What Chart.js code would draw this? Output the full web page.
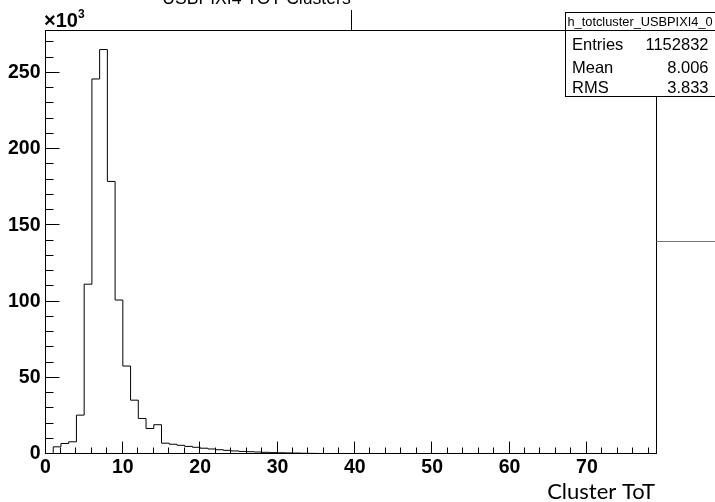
<!DOCTYPE html>
<html lang="en">
<head>
<meta charset="utf-8">
<title>USBPIXI4 TOT Clusters</title>
<script src="https://cdn.jsdelivr.net/npm/chart.js"></script>
<style>
  html, body { margin: 0; padding: 0; background: #fff; }
  #wrap { width: 715px; height: 502px; }
</style>
</head>
<body>
<div id="wrap"><canvas id="totChart" width="715" height="502"></canvas></div>
<script>
// counts per ToT bin in units of 10^3, bin i covers [i, i+1)
const totCounts = [
  0, 4.7, 6.9, 8.0, 25.5, 111.4, 246.0, 265.3, 178.8, 101.0,
  57.7, 35.3, 23.3, 16.7, 19.2, 7.1, 6.4, 5.7, 5.0, 4.4,
  3.8, 3.3, 2.8, 2.4, 2.0, 1.7, 1.5, 1.3, 1.1, 0.9,
  0.8, 0.7, 0.6, 0.5, 0.42, 0.36, 0.3, 0.25, 0.2, 0.17,
  0.14, 0.12, 0.1, 0.08, 0.07, 0.06, 0.05, 0.04, 0.03, 0.03,
  0.02, 0.02, 0.01, 0.01, 0.01, 0, 0, 0, 0, 0,
  0, 0, 0, 0, 0, 0, 0, 0, 0, 0,
  0, 0, 0, 0, 0, 0, 0, 0, 0
];
const xRange = [0, 79];
const yRange = [0, 277.8];
const xTickStep = 10, xMinorStep = 2;
const yTickStep = 50, yMinorStep = 10;

const histTitle = 'USBPIXI4 TOT Clusters';
const xTitle = 'Cluster ToT';
const statsName = 'h_totcluster_USBPIXI4_0';
const statsLabels = ['Entries', 'Mean', 'RMS'];
const statsValues = ['1152832', '8.006', '3.833'];

// step outline: one point per bin low edge, plus the last upper edge
const points = totCounts.map((c, i) => ({ x: i, y: c }));
points.push({ x: totCounts.length, y: totCounts[totCounts.length - 1] });

const FONT = 'Liberation Sans';
const px = v => Math.round(v) - 0.5;

const rootFrame = {
  id: 'rootFrame',
  afterDraw(chart) {
    const { ctx, chartArea: a, scales: { x, y } } = chart;
    const L = px(a.left), R = px(a.right), T = px(a.top), B = px(a.bottom);
    ctx.save();
    ctx.strokeStyle = '#000';
    ctx.lineWidth = 1;

    // frame
    ctx.strokeRect(L, T, R - L, B - T);

    // ticks, drawn inwards like ROOT
    ctx.beginPath();
    for (let v = yRange[0]; v <= yRange[1]; v += yMinorStep) {
      const py = px(y.getPixelForValue(v));
      const len = v % yTickStep === 0 ? 14 : 8;
      ctx.moveTo(L, py); ctx.lineTo(L + len, py);
    }
    for (let v = xRange[0]; v < xRange[1]; v += xMinorStep) {
      const pxl = px(x.getPixelForValue(v));
      const len = v % xTickStep === 0 ? 12 : 6;
      ctx.moveTo(pxl, B); ctx.lineTo(pxl, B - len);
    }
    ctx.stroke();

    // leftover pad lines
    ctx.beginPath();
    ctx.moveTo(351.5, 10); ctx.lineTo(351.5, T);
    ctx.stroke();
    ctx.strokeStyle = '#777';
    ctx.beginPath();
    ctx.moveTo(R, 241.5); ctx.lineTo(715, 241.5);
    ctx.stroke();
    ctx.strokeStyle = '#000';

    // stats box
    ctx.fillStyle = '#fff';
    ctx.fillRect(565.5, 12.5, 160, 84);
    ctx.strokeRect(565.5, 12.5, 160, 84);
    ctx.beginPath();
    ctx.moveTo(565.5, 30.5); ctx.lineTo(715, 30.5);
    ctx.stroke();
    ctx.fillStyle = '#000';
    ctx.font = `12.8px ${FONT}`;
    ctx.textAlign = 'left';
    ctx.textBaseline = 'alphabetic';
    ctx.fillText(statsName, 567.5, 25.5);
    ctx.font = `16.5px ${FONT}`;
    const rowY = [50, 72.5, 93];
    statsLabels.forEach((lab, i) => {
      ctx.textAlign = 'left';
      ctx.fillText(lab, 572, rowY[i]);
      ctx.textAlign = 'right';
      ctx.fillText(statsValues[i], 708.5, rowY[i]);
    });

    // title, clipped at the top of the canvas
    ctx.font = `17.6px ${FONT}`;
    ctx.textAlign = 'center';
    ctx.fillText(histTitle, 256.5, 4);

    // exponent label
    ctx.font = `bold 20px ${FONT}`;
    ctx.textAlign = 'left';
    ctx.fillText('\u00d710', 44, 27);
    const w = ctx.measureText('\u00d710').width;
    ctx.font = `bold 12px ${FONT}`;
    ctx.fillText('3', 44 + w, 18);

    // x axis title
    ctx.font = '22px Lato';
    ctx.textAlign = 'right';
    ctx.fillText(xTitle, 655, 499);
    ctx.restore();
  }
};

new Chart(document.getElementById('totChart'), {
  type: 'line',
  data: {
    datasets: [{
      data: points,
      stepped: 'before',
      borderColor: '#000',
      borderWidth: 1,
      pointRadius: 0,
      fill: false,
      tension: 0
    }]
  },
  options: {
    responsive: false,
    animation: false,
    layout: { padding: { top: 30.5, right: 58.5, left: 0, bottom: 0 } },
    plugins: { legend: { display: false }, tooltip: { enabled: false } },
    scales: {
      x: {
        type: 'linear',
        min: xRange[0],
        max: xRange[1],
        grid: { display: false, drawTicks: false },
        border: { display: false },
        ticks: {
          stepSize: xTickStep,
          includeBounds: false,
          autoSkip: false,
          maxRotation: 0,
          padding: 2,
          color: '#000',
          font: { family: FONT, weight: 'bold', size: 19.5 }
        },
        afterFit(s) { s.height = 48; }
      },
      y: {
        min: yRange[0],
        max: yRange[1],
        grid: { display: false, drawTicks: false },
        border: { display: false },
        ticks: {
          stepSize: yTickStep,
          includeBounds: false,
          padding: 5,
          color: '#000',
          font: { family: FONT, weight: 'bold', size: 19.5 }
        },
        afterFit(s) { s.width = 45.5; }
      }
    }
  },
  plugins: [rootFrame]
});
</script>
</body>
</html>
